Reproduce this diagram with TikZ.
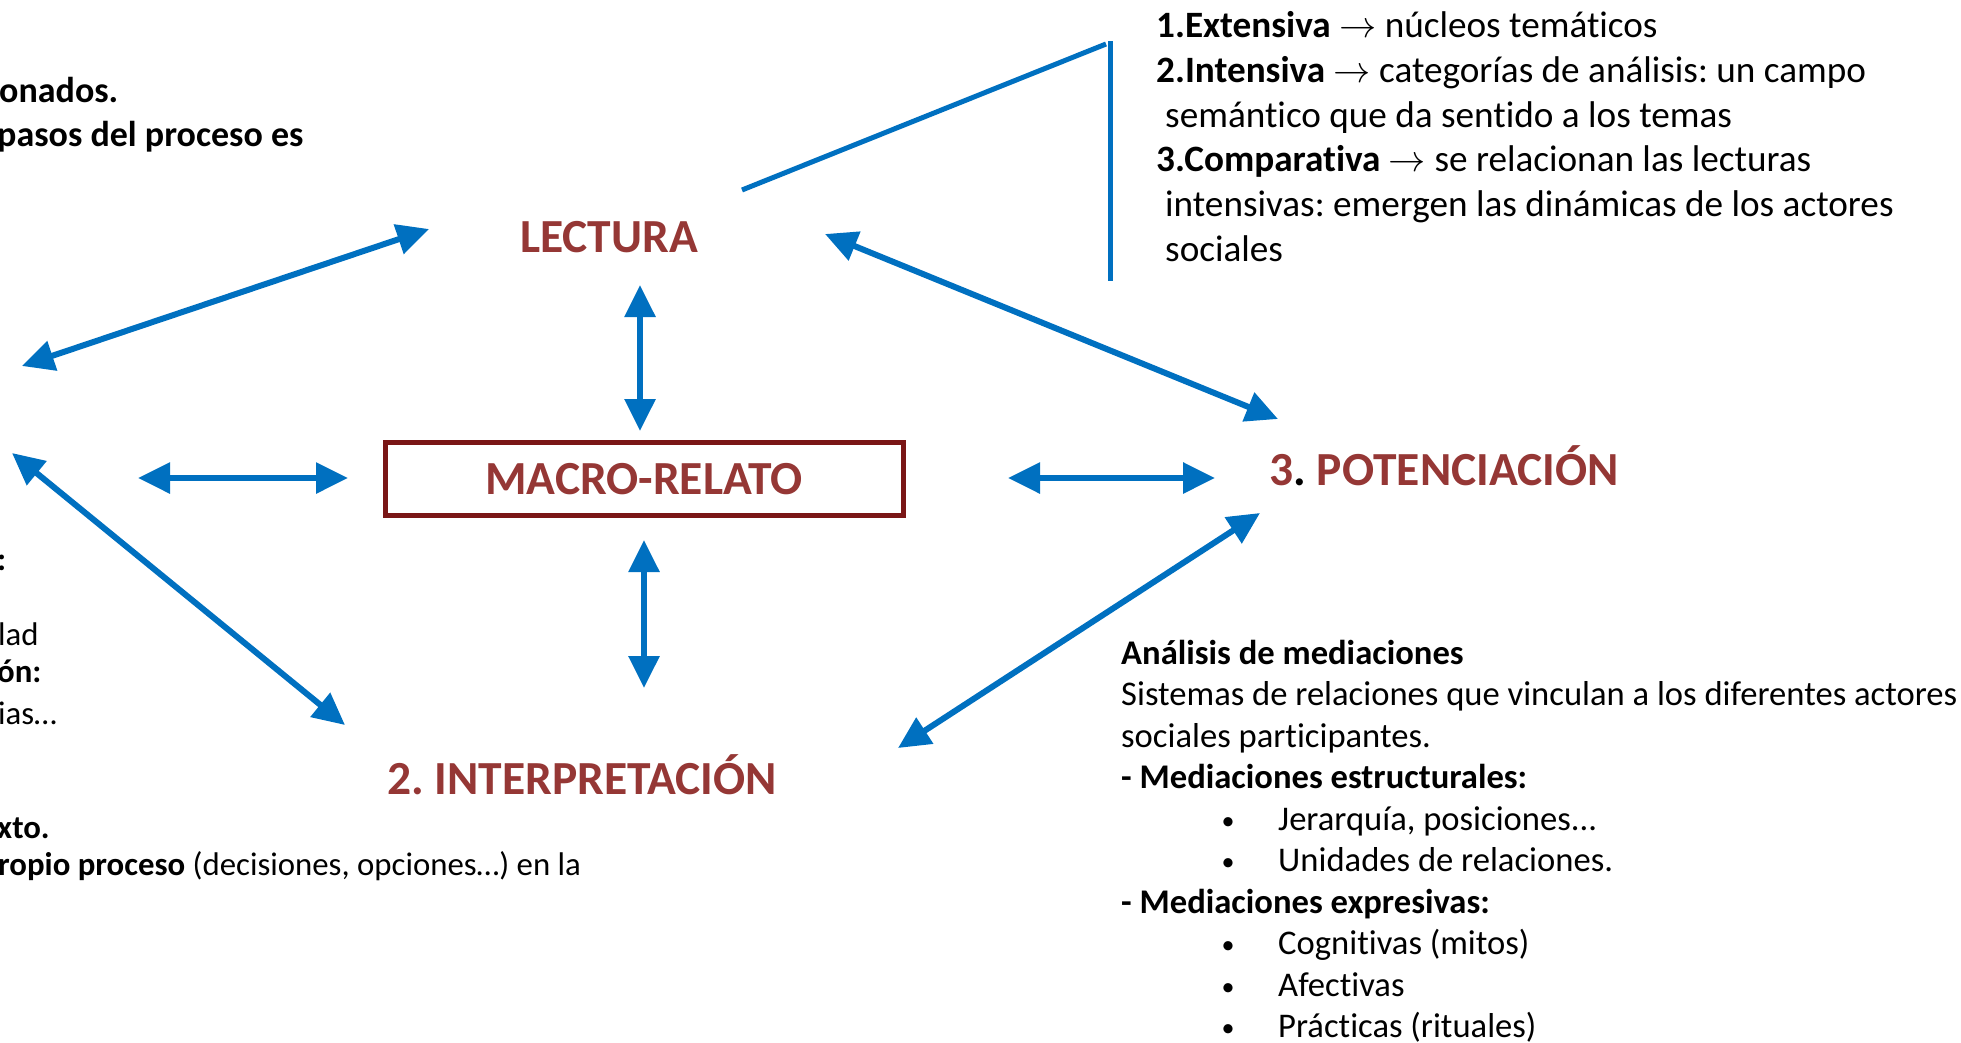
\documentclass[tikz,border=0pt]{standalone}
\usepackage{fix-cm}
\usepackage{fontspec}
\setmainfont{Carlito}[Ligatures={TeX,NoCommon}]
\usetikzlibrary{arrows.meta}
\definecolor{hdred}{RGB}{149,55,53}
\definecolor{boxred}{RGB}{122,22,22}
\definecolor{arrblue}{RGB}{0,112,192}
\frenchspacing
\begin{document}
\begin{tikzpicture}[x=1pt,y=-1pt,
  dbl/.style={draw=arrblue, line width=6pt,
    {Triangle[length=32pt,width=30pt]}-{Triangle[length=32pt,width=30pt]}},
  plainline/.style={draw=arrblue, line width=5pt},
  hd/.style={font=\bfseries\fontsize{47.5}{52}\selectfont, text=hdred, inner sep=0pt},
  macbox/.style={draw=boxred, line width=5pt, minimum width=518pt, minimum height=73pt,
    font=\bfseries\fontsize{47.5}{52}\selectfont, text=hdred},
  tr/.style={font=\fontsize{37.2}{45}\selectfont, anchor=base west, inner sep=0pt},
  brt/.style={font=\fontsize{34.6}{41}\selectfont, anchor=base west, inner sep=0pt},
  lft/.style={font=\fontsize{32.8}{38}\selectfont, anchor=base west, inner sep=0pt},
  tlft/.style={font=\bfseries\fontsize{36}{44}\selectfont, anchor=base west, inner sep=0pt},
  bul/.style={font=\fontsize{26}{41}\selectfont, anchor=base, inner sep=0pt}
]
\useasboundingbox (0,0) rectangle (1961,1042);

% headings
\node[hd] (lec) at (609,237) {LECTURA};
\node[macbox] (mac) at (644,479) {MACRO-RELATO};
\node[hd] (int) at (582,775) {2. INTERPRETACIÓN};
\node[hd] (pot) at (1444,466) {3{\color{black}.} POTENCIACIÓN};

% top-left fragments
\node[tlft] (tl1) at (-1,102) {onados.};
\node[tlft] (tl2) at (-3,146) {pasos del proceso es};

% left fragments
\node[lft] (l1) at (-3,570) {\textbf{:}};
\node[lft] (l2) at (-2,645) {lad};
\node[lft] (l3) at (-3,682) {\textbf{ón:}};
\node[lft] (l4) at (-2,724) {ias…};
\node[lft] (l5) at (-3,838) {\textbf{xto.}};
\node[lft] (l6) at (-2,875) {\textbf{ropio proceso} (decisiones, opciones…) en la};

% top-right list
\node[tr] (r1) at (1156,37) {\textbf{1.Extensiva} $\rightarrow$ núcleos temáticos};
\node[tr] (r2) at (1156,82) {\textbf{2.Intensiva} $\rightarrow$ categorías de análisis: un campo};
\node[tr] (r3) at (1165,127) {semántico que da sentido a los temas};
\node[tr] (r4) at (1156,171) {\textbf{3.Comparativa} $\rightarrow$ se relacionan las lecturas};
\node[tr] (r5) at (1165,216) {intensivas: emergen las dinámicas de los actores};
\node[tr] (r6) at (1165,261) {sociales};

% bottom-right text
\node[brt] (b1) at (1121,664) {\textbf{Análisis de mediaciones}};
\node[brt] (b2) at (1121,705) {Sistemas de relaciones que vinculan a los diferentes actores};
\node[brt] (b3) at (1121,747) {sociales participantes.};
\node[brt] (b4) at (1121,788) {\textbf{- Mediaciones estructurales:}};
\node[bul] (d5) at (1228,829) {•};
\node[brt] (b5) at (1278,830) {Jerarquía, posiciones...};
\node[bul] (d6) at (1228,870) {•};
\node[brt] (b6) at (1278,871) {Unidades de relaciones.};
\node[brt] (b7) at (1121,913) {\textbf{- Mediaciones expresivas:}};
\node[bul] (d8) at (1228,953) {•};
\node[brt] (b8) at (1278,954) {Cognitivas (mitos)};
\node[bul] (d9) at (1228,995) {•};
\node[brt] (b9) at (1278,996) {Afectivas};
\node[bul] (d10) at (1228,1036) {•};
\node[brt] (b10) at (1278,1037) {Prácticas (rituales)};

% connector end points
\coordinate (a1s) at (429,229);  \coordinate (a1e) at (22,366);
\coordinate (a2s) at (640,285);  \coordinate (a2e) at (640,431);
\coordinate (a3s) at (825,234);  \coordinate (a3e) at (1278,419);
\coordinate (a4s) at (138,478);  \coordinate (a4e) at (348,478);
\coordinate (a5s) at (1008,478); \coordinate (a5e) at (1215,478);
\coordinate (a6s) at (12,453);   \coordinate (a6e) at (345,725);
\coordinate (a7s) at (644,540);  \coordinate (a7e) at (644,688);
\coordinate (a8s) at (1260,513); \coordinate (a8e) at (898,748);
\coordinate (k1) at (742,190);   \coordinate (k2) at (1106,44);
\coordinate (k3) at (1110,41);   \coordinate (k4) at (1110,281);

% connectors
\draw[dbl] (a1s) -- (a1e);
\draw[dbl] (a2s) -- (a2e);
\draw[dbl] (a3s) -- (a3e);
\draw[dbl] (a4s) -- (a4e);
\draw[dbl] (a5s) -- (a5e);
\draw[dbl] (a6s) -- (a6e);
\draw[dbl] (a7s) -- (a7e);
\draw[dbl] (a8s) -- (a8e);
\draw[plainline] (k1) -- (k2);
\draw[plainline] (k3) -- (k4);
\end{tikzpicture}
\end{document}
